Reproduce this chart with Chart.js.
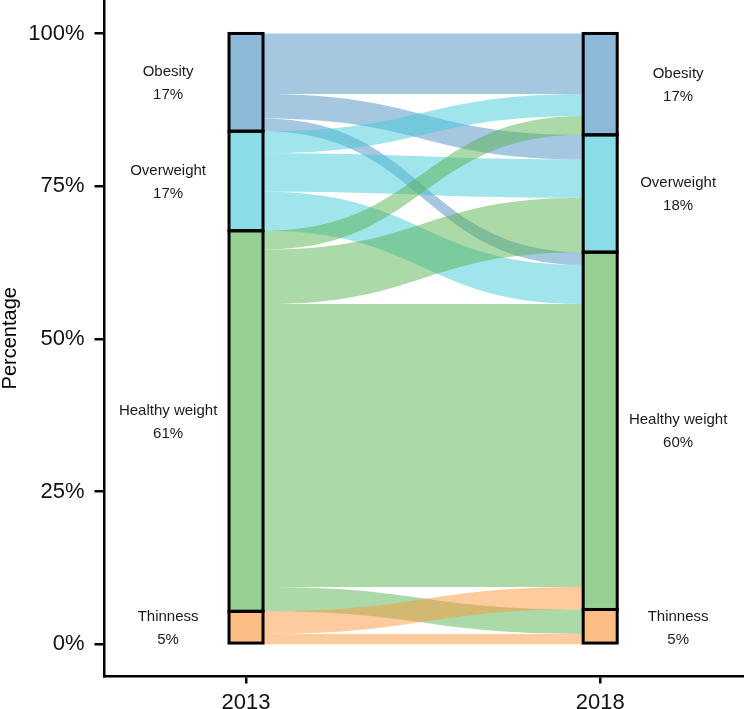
<!DOCTYPE html>
<html>
<head>
<meta charset="utf-8">
<script src="https://cdn.jsdelivr.net/npm/chart.js@4.4.1/dist/chart.umd.min.js"></script>
<style>
  html, body { margin: 0; padding: 0; background: #fff; }
  #wrap { width: 744px; height: 709px; }
</style>
</head>
<body>
<div id="wrap"><canvas id="alluvial" width="744" height="709"></canvas></div>
<script>
// ===== Data =====
const years = ['2013', '2018'];
const categories = ['Obesity', 'Overweight', 'Healthy weight', 'Thinness'];
const shares2013 = ['17%', '17%', '61%', '5%'];
const shares2018 = ['17%', '18%', '60%', '5%'];
// flows between categories (percent of all children)
const flowFrom = [0, 0, 0, 1, 1, 1, 2, 2, 2, 2, 3, 3];
const flowTo   = [0, 1, 2, 0, 1, 2, 0, 1, 2, 3, 2, 3];
const flowPct  = [9.9, 4.0, 2.1, 3.6, 6.3, 6.4, 3.1, 8.9, 46.3, 4.0, 3.7, 1.7];
const yTicks = [0, 25, 50, 75, 100];

const boxColors  = ['#8db9d8', '#8adce6', '#96d092', '#fdbe85'];
const flowColors = ['rgba(75,145,193,0.5)', 'rgba(65,201,217,0.5)', 'rgba(89,179,81,0.5)', 'rgba(251,151,61,0.5)'];

Chart.defaults.font.family = "'Liberation Sans', Arial, sans-serif";

// ===== Stacks (top to bottom, starting at 100%) =====
const nodeTotal = (side, c) => flowPct.reduce((s, v, i) =>
    s + ((side === 0 ? flowFrom[i] : flowTo[i]) === c ? v : 0), 0);

const nodeRange = [0, 1].map(side => {
    let top = 100;
    return categories.map((_, c) => {
        const t = nodeTotal(side, c);
        const r = [top - t, top];
        top -= t;
        return r;
    });
});

const datasets = categories.map((name, c) => ({
    label: name,
    data: [0, 1].map(side => ({ x: side, y: nodeRange[side][c] })),
    backgroundColor: boxColors[c],
    borderWidth: 0,
    barThickness: 34,
    grouped: false
}));

// ===== Plugins =====
const flowPlugin = {
    id: 'flows',
    beforeDatasetsDraw(chart) {
        const { ctx, scales: { x: xs, y: ys } } = chart;
        const half = chart.getDatasetMeta(0).data[0].width / 2;
        const x0 = xs.getPixelForValue(0) + half;
        const x1 = xs.getPixelForValue(1) - half;
        const xm = (x0 + x1) / 2;

        // left side: ordered by from, then to; right side: by to, then from
        const leftCur = nodeRange[0].map(r => r[1]);
        const rightCur = nodeRange[1].map(r => r[1]);
        const idx = flowPct.map((_, i) => i);
        const leftPos = {}, rightPos = {};
        [...idx].sort((a, b) => flowFrom[a] - flowFrom[b] || flowTo[a] - flowTo[b]).forEach(i => {
            const t = leftCur[flowFrom[i]];
            leftPos[i] = [t, t - flowPct[i]];
            leftCur[flowFrom[i]] -= flowPct[i];
        });
        [...idx].sort((a, b) => flowTo[a] - flowTo[b] || flowFrom[a] - flowFrom[b]).forEach(i => {
            const t = rightCur[flowTo[i]];
            rightPos[i] = [t, t - flowPct[i]];
            rightCur[flowTo[i]] -= flowPct[i];
        });

        ctx.save();
        idx.forEach(i => {
            const a0 = ys.getPixelForValue(leftPos[i][0]);
            const b0 = ys.getPixelForValue(leftPos[i][1]);
            const a1 = ys.getPixelForValue(rightPos[i][0]);
            const b1 = ys.getPixelForValue(rightPos[i][1]);
            ctx.beginPath();
            ctx.moveTo(x0, a0);
            ctx.bezierCurveTo(xm, a0, xm, a1, x1, a1);
            ctx.lineTo(x1, b1);
            ctx.bezierCurveTo(xm, b1, xm, b0, x0, b0);
            ctx.closePath();
            ctx.fillStyle = flowColors[flowFrom[i]];
            ctx.fill();
        });
        ctx.restore();
    }
};

const boxPlugin = {
    id: 'boxes',
    afterDatasetsDraw(chart) {
        const { ctx, scales: { x: xs, y: ys } } = chart;
        ctx.save();
        ctx.strokeStyle = '#000';
        ctx.lineWidth = 3;
        chart.data.datasets.forEach((ds, c) => {
            chart.getDatasetMeta(c).data.forEach(el => {
                const p = el.getProps(['x', 'y', 'base', 'width'], true);
                ctx.strokeRect(p.x - p.width / 2, Math.min(p.y, p.base), p.width, Math.abs(p.base - p.y));
            });
        });

        // node labels
        ctx.fillStyle = '#1a1a1a';
        ctx.font = "15px 'Liberation Sans', Arial, sans-serif";
        ctx.textAlign = 'center';
        ctx.textBaseline = 'middle';
        const labelX = [xs.getPixelForValue(-0.22), xs.getPixelForValue(1.22)];
        const shares = [shares2013, shares2018];
        [0, 1].forEach(side => {
            categories.forEach((name, c) => {
                const r = nodeRange[side][c];
                const cy = ys.getPixelForValue((r[0] + r[1]) / 2);
                ctx.fillText(name, labelX[side], cy - 10.5);
                ctx.fillText(shares[side][c], labelX[side], cy + 12.5);
            });
        });
        ctx.restore();
    }
};

// ===== Chart =====
new Chart(document.getElementById('alluvial'), {
    type: 'bar',
    data: { datasets },
    options: {
        responsive: false,
        animation: false,
        devicePixelRatio: 1,
        layout: { padding: 0 },
        plugins: { legend: { display: false }, tooltip: { enabled: false } },
        scales: {
            x: {
                type: 'linear',
                offset: false,
                min: -0.401,
                max: 1.406,
                afterBuildTicks: s => { s.ticks = [{ value: 0 }, { value: 1 }]; },
                afterFit: s => { s.height = 32.5; s.paddingLeft = 0; s.paddingRight = 0; },
                ticks: { callback: v => years[v], font: { size: 22 }, color: '#111', padding: 6, maxRotation: 0 },
                grid: { offset: false, drawOnChartArea: false, drawTicks: true, tickLength: 7, color: '#000', lineWidth: 2.5 },
                border: { display: true, color: '#000', width: 2.5 }
            },
            y: {
                type: 'linear',
                min: -5.27,
                max: 105.48,
                afterBuildTicks: s => { s.ticks = yTicks.map(v => ({ value: v })); },
                afterFit: s => { s.width = 104; s.paddingTop = 0; s.paddingBottom = 0; },
                ticks: { callback: v => v + '%', font: { size: 22 }, color: '#111', padding: 10 },
                grid: { drawOnChartArea: false, drawTicks: true, tickLength: 9.5, color: '#000', lineWidth: 2.5 },
                border: { display: true, color: '#000', width: 2.5 },
                title: { display: true, text: 'Percentage', font: { size: 20, lineHeight: 1 }, color: '#000', padding: 0 }
            }
        }
    },
    plugins: [flowPlugin, boxPlugin]
});
</script>
</body>
</html>
